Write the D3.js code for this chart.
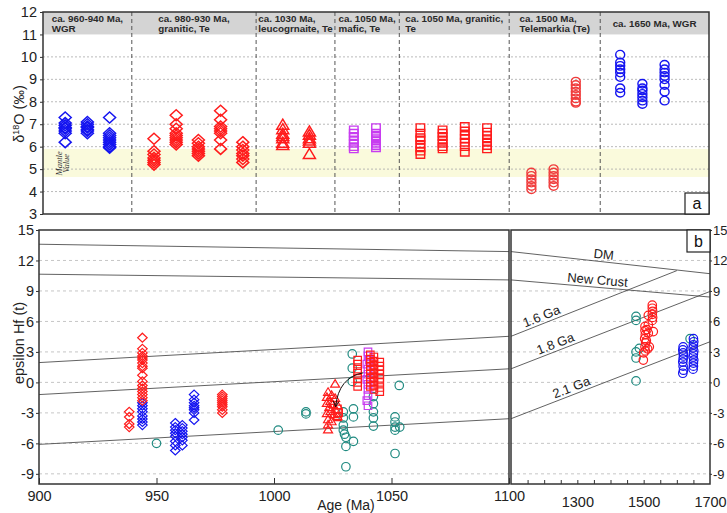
<!DOCTYPE html>
<html><head><meta charset="utf-8">
<script src="https://cdn.jsdelivr.net/npm/d3@7"></script>
<style>body{margin:0;background:#fff}svg{display:block}</style>
</head><body><svg id="c" width="727" height="513"></svg>
<script>
// ================= DATA =================
// Panel a (δ18O): group headers and group boundaries on the column axis
const groupHeaders = [
  ["ca. 960-940 Ma,", "WGR"],
  ["ca. 980-930 Ma,", "granitic, Te"],
  ["ca. 1030 Ma,", "leucogrnaite, Te"],
  ["ca. 1050 Ma,", "mafic, Te"],
  ["ca. 1050 Ma, granitic,", "Te"],
  ["ca. 1500 Ma,", "Telemarkia (Te)"],
  ["ca. 1650 Ma, WGR"]
];
const groupBounds = [0, 4, 9.6, 13.15, 16.05, 21, 25.1, 30];
const d18OTicks = [3, 4, 5, 6, 7, 8, 9, 10, 11, 12];
const mantleRange = [4.65, 5.9];

// δ18O values per sample column
const d18O_wgr960 = [
  {col: 1, v: [7.3, 7.05, 6.95, 6.85, 6.8, 6.7, 6.6, 6.2]},
  {col: 2, v: [7.1, 7.0, 6.9, 6.85, 6.75, 6.7, 6.6]},
  {col: 3, v: [7.3, 6.6, 6.5, 6.4, 6.3, 6.2, 6.1, 6.0, 5.95]}
];
const d18O_gran980 = [
  {col: 5, v: [6.35, 5.8, 5.65, 5.5, 5.4, 5.3, 5.2]},
  {col: 6, v: [7.4, 7.0, 6.8, 6.6, 6.5, 6.4, 6.3, 6.2, 6.1]},
  {col: 7, v: [6.3, 6.15, 6.0, 5.9, 5.8, 5.7, 5.6]},
  {col: 8, v: [7.6, 7.2, 6.9, 6.8, 6.7, 6.6, 6.3, 5.9]},
  {col: 9, v: [6.2, 6.0, 5.85, 5.7, 5.6, 5.45, 5.3]}
];
const d18O_leuco1030 = [
  {col: 10.8, v: [7.0, 6.8, 6.6, 6.5, 6.4, 6.2, 6.1]},
  {col: 12, v: [6.7, 6.55, 6.4, 6.3, 6.2, 5.7]}
];
const d18O_mafic1050 = [
  {col: 14, v: [6.75, 6.6, 6.45, 6.3, 6.15, 6.0, 5.9]},
  {col: 15, v: [6.85, 6.6, 6.45, 6.35, 6.25, 6.15, 6.05, 5.95]}
];
const d18O_gran1050 = [
  {col: 17, v: [6.85, 6.6, 6.4, 6.3, 6.1, 5.95, 5.8, 5.65]},
  {col: 18, v: [6.75, 6.6, 6.45, 6.3, 6.15, 6.0, 5.9]},
  {col: 19, v: [6.9, 6.7, 6.5, 6.35, 6.2, 6.0, 5.75]},
  {col: 20, v: [6.85, 6.65, 6.5, 6.35, 6.2, 6.05, 5.9]}
];
const d18O_tele1500 = [
  {col: 22, v: [4.85, 4.7, 4.55, 4.4, 4.25, 4.1]},
  {col: 23, v: [5.0, 4.85, 4.7, 4.55, 4.4, 4.25]},
  {col: 24, v: [8.9, 8.75, 8.6, 8.45, 8.3, 8.15, 8.0, 7.95]}
];
const d18O_wgr1650 = [
  {col: 26, v: [10.1, 9.75, 9.6, 9.45, 9.3, 9.1, 8.6, 8.4]},
  {col: 27, v: [8.8, 8.6, 8.5, 8.35, 8.2, 8.05, 7.9]},
  {col: 28, v: [9.65, 9.45, 9.3, 9.15, 9.0, 8.75, 8.45, 8.05]}
];

// Panel b (εHf(t) vs age)
const hfTicks = [-9, -6, -3, 0, 3, 6, 9, 12, 15];
const ageTicksLeft = [900, 950, 1000, 1050, 1100];
const ageTicksRight = [1300, 1500, 1700];

const refLines = [
  {name: "DM",        pts: [[900, 13.6], [1700, 10.7]],  labelAge: 1377},
  {name: "New Crust", pts: [[900, 10.65], [1700, 8.4]],  labelAge: 1359},
  {name: "1.6 Ga",    pts: [[900, 1.95], [1600, 11.0]],  labelAge: 1200},
  {name: "1.8 Ga",    pts: [[900, -1.2], [1700, 8.95]],  labelAge: 1242},
  {name: "2.1 Ga",    pts: [[900, -6.1], [1700, 4.0]],   labelAge: 1290}
];

const hf_wgr960 = [
  [944,-2.0],[944,-2.3],[944,-2.6],[944,-2.9],[944,-3.3],[944,-3.6],[944,-3.9],[944,-4.2],
  [958,-4.0],[958,-4.4],[958,-4.7],[958,-5.0],[958,-5.3],[958,-5.8],[958,-6.2],[958,-6.7],
  [961,-4.2],[961,-4.5],[961,-4.8],[961,-5.1],[961,-5.4],[961,-5.7],[961,-6.2],
  [966,-1.2],[966,-1.7],[966,-2.0],[966,-2.3],[966,-2.5],[966,-2.7],[966,-3.0],[966,-3.7]
];
const hf_gran980 = [
  [938.4,-2.9],[938.4,-3.4],[938.4,-4.1],[938.4,-4.4],
  [944,4.4],[944,3.3],[944,2.9],[944,2.6],[944,2.4],[944,2.2],[944,1.9],[944,1.6],[944,1.4],
  [944,0.7],[944,0.1],[944,-0.3],[944,-0.6],[944,-0.9],[944,-1.2],[944,-1.5],[944,-1.8],
  [978,-1.2],[978,-1.4],[978,-1.6],[978,-1.8],[978,-2.0],[978,-2.2],[978,-2.4],[978,-2.7],[978,-3.0]
];
const hf_leuco1030 = [
  [1026,-0.1],[1023,-0.9],[1024.5,-1.2],[1022.5,-1.4],[1026,-1.5],[1024,-1.8],[1022.5,-2.0],
  [1025,-2.1],[1027,-2.2],[1023.5,-2.4],[1026,-2.6],[1024,-2.8],[1022.5,-3.0],[1025.5,-3.1],
  [1027,-3.3],[1023,-3.6],[1024.5,-3.8],[1023,-4.1],[1023,-4.6]
];
const hf_mafic1050 = [
  [1040,3.0],[1040,2.6],[1040.5,2.2],[1039.5,1.8],[1040,1.3],[1040,0.8],[1039.5,0.3],
  [1040,-0.2],[1040,-0.7],[1040,-1.3],[1039.5,-1.8],[1040,-2.3]
];
const hf_gran1050 = [
  [1035.6,2.2],[1035.6,1.8],[1035.6,1.3],[1035.6,0.9],[1035.6,0.4],[1035.6,0.0],[1035.6,-0.4],
  [1041,2.7],[1041,2.3],[1041,2.0],[1041,1.6],[1041,1.2],[1041,0.8],[1041,0.4],[1041,0.0],[1041,-0.4],
  [1042.5,2.5],[1042.5,2.1],[1042.5,1.7],[1042.5,1.3],[1042.5,0.9],[1042.5,0.5],[1042.5,0.1],[1042.5,-0.3],[1042.5,-0.7],
  [1045,2.0],[1045,1.6],[1045,1.2],[1045,0.8],[1045,0.4],[1045,0.0],[1045,-0.5],[1045,-0.9],
  [1027,-2.6],[1027.5,-3.0],[1027,-3.4]
];
const hf_literature = [
  [950,-6.0],[1001.8,-4.7],[1013.6,-2.9],[1013.6,-3.1],
  [1033.3,2.8],[1033.3,1.4],[1033.3,0.1],
  [1029.5,-2.9],[1029.5,-3.5],[1029.5,-4.2],[1029.5,-4.7],[1030,-5.1],[1030.6,-5.4],[1030.6,-6.3],
  [1033.8,-2.6],[1033.8,-3.4],[1033.8,-5.8],[1030.6,-8.3],
  [1042.3,-1.4],[1042.3,-2.1],[1042.3,-2.9],[1042.3,-3.5],[1042.3,-4.3],
  [1053.3,-0.3],[1051.5,-3.4],[1051.5,-3.9],[1051.5,-4.4],[1051.5,-4.7],[1053.5,-4.4],[1051.5,-7.0],
  [1477,6.5],[1477,6.1],[1477,3.0],[1477,2.4],[1487,3.35],[1477,0.15],[1640,4.3]
];
const hf_tele1500 = [
  [1526,7.6],[1526,7.3],[1527,7.0],[1526,6.7],[1527,6.4],[1526,6.1],
  [1514,6.6],[1514,5.65],[1514,4.85],[1529,5.0],
  [1504,5.5],[1504,5.1],[1505,4.7],[1503,4.3],[1506,3.9],[1504,3.5],[1505,3.1],
  [1517,3.5],[1499,2.2],[1508,4.1],[1510,5.2],[1500,2.9],[1512,3.3]
];
const hf_wgr1650 = [
  [1619,3.5],[1618,3.2],[1619,2.9],[1620,2.6],[1619,2.3],[1618,2.0],[1619,1.6],[1620,1.2],[1618,0.9],
  [1650,4.3],[1651,4.0],[1650,3.7],[1649,3.4],[1651,3.1],[1650,2.8],[1649,2.5],[1651,2.2],[1650,1.9],[1650,1.6],[1649,1.3]
];
// curved arrow (from, via, to) in age / εHf
const arrowPts = [[1038, 0.95], [1027.5, 0.5], [1026.2, -2.4]];

// ================= STYLE / LAYOUT =================
const FONT = '"Liberation Sans", Arial, Helvetica, sans-serif';
const COL = {blue: "#1414f0", red: "#ff1c1c", redL: "#f03c3c", mag: "#c83cf0", teal: "#1f8a80", ink: "#222"};
const svg = d3.select("#c").style("font-family", FONT);
const fmt = d => String(d);

const xA = d3.scaleLinear().domain([0, 30]).range([43, 709]);
const yA = d3.scaleLinear().domain([3, 12]).range([214, 12]);
const xL = d3.scaleLinear().domain([900, 1100]).range([39, 509]);
const xR = d3.scaleLinear().domain([1100, 1700]).range([511, 710]);
const yB = d3.scaleLinear().domain([-10, 15]).range([484, 230]);

function shapePath(type, w, h) {
  const a = w / 2, b = h / 2;
  if (type === "diamond") return `M0,${-b}L${a},0L0,${b}L${-a},0Z`;
  if (type === "triangle") return `M0,${-b}L${a},${b}L${-a},${b}Z`;
  if (type === "square") return `M${-a},${-b}H${a}V${b}H${-a}Z`;
  return `M${-a},0A${a},${b} 0 1,0 ${a},0A${a},${b} 0 1,0 ${-a},0Z`;
}
function marks(g, pts, xs, ys, shape, w, h, color, sw) {
  g.append("g").selectAll("path").data(pts).join("path")
    .attr("transform", d => `translate(${xs(d[0])},${ys(d[1])})`)
    .attr("d", shapePath(shape, w, h))
    .attr("fill", "none").attr("stroke", color).attr("stroke-width", sw);
}
const flat = cols => cols.flatMap(c => c.v.map(v => [c.col, v]));

// ================= PANEL A =================
const gA = svg.append("g");
const [ax0, ax1] = xA.range(), [ay1, ay0] = yA.range();
gA.append("rect").attr("x", ax0).attr("width", ax1 - ax0)
  .attr("y", yA(mantleRange[1])).attr("height", yA(mantleRange[0]) - yA(mantleRange[1]))
  .attr("fill", "#fafadc");
gA.append("rect").attr("x", ax0).attr("width", ax1 - ax0)
  .attr("y", yA(12)).attr("height", yA(11) - yA(12)).attr("fill", "#d4d4d4");
gA.append("g").selectAll("line").data(d18OTicks.filter(t => t > 3 && t < 11)).join("line")
  .attr("x1", ax0).attr("x2", ax1).attr("y1", d => yA(d)).attr("y2", d => yA(d))
  .attr("stroke", "#a8a8a8").attr("stroke-width", 0.8).attr("stroke-dasharray", "2,2");
gA.append("g").selectAll("line").data(groupBounds.slice(1, -1)).join("line")
  .attr("x1", d => xA(d)).attr("x2", d => xA(d)).attr("y1", ay0).attr("y2", ay1)
  .attr("stroke", "#555").attr("stroke-width", 1).attr("stroke-dasharray", "4,3");

// Mantle value text
[["Mantle", 61.5], ["Value", 68.5]].forEach(([t, x]) => {
  gA.append("text").attr("transform", `translate(${x},${yA(5.3) + 1}) rotate(-90)`)
    .attr("text-anchor", "middle").attr("font-family", '"Liberation Serif", "DejaVu Serif", serif')
    .attr("font-style", "italic").attr("font-size", 8.5).attr("fill", "#333").text(t);
});

marks(gA, flat(d18O_wgr960), xA, yA, "diamond", 12, 11, COL.blue, 1.5);
marks(gA, flat(d18O_gran980), xA, yA, "diamond", 12, 11, COL.red, 1.5);
marks(gA, flat(d18O_leuco1030), xA, yA, "triangle", 12, 10, COL.red, 1.5);
marks(gA, flat(d18O_mafic1050), xA, yA, "square", 8.5, 7.5, COL.mag, 1.4);
marks(gA, flat(d18O_gran1050), xA, yA, "square", 8.5, 7.5, COL.red, 1.4);
marks(gA, flat(d18O_tele1500), xA, yA, "circle", 9, 8.5, COL.redL, 1.4);
marks(gA, flat(d18O_wgr1650), xA, yA, "circle", 9, 8.5, COL.blue, 1.4);

// headers
groupHeaders.forEach((lines, i) => {
  const cx = (xA(groupBounds[i]) + xA(groupBounds[i + 1])) / 2;
  const t = gA.append("text").attr("font-size", 9.8).attr("font-weight", "bold").attr("fill", "#2a2a2a");
  const ys = lines.length === 1 ? [26.5] : [21.5, 31.8];
  const spans = lines.map((l, j) => t.append("tspan").attr("y", ys[j]).text(l));
  const w = d3.max(spans, s => s.node().getComputedTextLength());
  spans.forEach(s => s.attr("x", cx - w / 2));
});

// frame + axis
gA.append("rect").attr("x", ax0).attr("y", ay0).attr("width", ax1 - ax0).attr("height", ay1 - ay0)
  .attr("fill", "none").attr("stroke", "#333").attr("stroke-width", 1.5);
const axA = gA.append("g").attr("transform", `translate(${ax0},0)`)
  .call(d3.axisLeft(yA).tickValues(d18OTicks).tickFormat(fmt).tickSize(3).tickPadding(3));
axA.select(".domain").remove();
axA.selectAll("text").attr("font-size", 14.5).attr("fill", COL.ink).style("font-family", FONT);
axA.selectAll("line").attr("stroke", "#333");
const tA = gA.append("text").attr("transform", `translate(24,${(ay0 + ay1) / 2 + 1}) rotate(-90)`)
  .attr("text-anchor", "middle").attr("font-size", 14.5).attr("fill", COL.ink);
tA.append("tspan").text("δ");
tA.append("tspan").attr("font-size", 9).attr("dy", -5).text("18");
tA.append("tspan").attr("dy", 5).text("O (‰)");
// 'a' box
gA.append("rect").attr("x", 685).attr("y", 193).attr("width", ax1 - 685).attr("height", ay1 - 193)
  .attr("fill", "#fff").attr("stroke", "#222").attr("stroke-width", 1.2);
gA.append("text").attr("x", (685 + ax1) / 2).attr("y", 209).attr("text-anchor", "middle")
  .attr("font-size", 16).attr("fill", "#111").text("a");

// ================= PANEL B =================
const gB = svg.append("g");
const [by1, by0] = yB.range();
const panels = [
  {x: xL, test: d => d[0] <= 1100, id: "clipL"},
  {x: xR, test: d => d[0] > 1100, id: "clipR"}
];
const defs = svg.append("defs");
panels.forEach(p => {
  const [px0, px1] = p.x.range();
  defs.append("clipPath").attr("id", p.id).append("rect")
    .attr("x", px0).attr("y", by0).attr("width", px1 - px0).attr("height", by1 - by0);
});
defs.append("marker").attr("id", "arr").attr("viewBox", "0 0 10 10").attr("refX", 9).attr("refY", 5)
  .attr("markerWidth", 7).attr("markerHeight", 7).attr("orient", "auto-start-reverse")
  .append("path").attr("d", "M1,1L9,5L1,9").attr("fill", "none").attr("stroke", "#111").attr("stroke-width", 1.3);

panels.forEach(p => {
  const [px0, px1] = p.x.range();
  const g = gB.append("g").attr("clip-path", `url(#${p.id})`);
  g.append("g").selectAll("line").data(hfTicks.filter(t => t < 15)).join("line")
    .attr("x1", px0).attr("x2", px1).attr("y1", d => yB(d)).attr("y2", d => yB(d))
    .attr("stroke", "#b8b8b8").attr("stroke-width", 0.8).attr("stroke-dasharray", "3,3");
  const line = d3.line().x(d => p.x(d[0])).y(d => yB(d[1]));
  g.append("g").selectAll("path").data(refLines).join("path")
    .attr("d", d => line(d.pts)).attr("fill", "none").attr("stroke", "#3a3a3a").attr("stroke-width", 0.8);

  marks(g, hf_literature.filter(p.test), p.x, yB, "circle", 8.5, 8.5, COL.teal, 1.2);
  marks(g, hf_wgr960.filter(p.test), p.x, yB, "diamond", 9.5, 9, COL.blue, 1.2);
  marks(g, hf_gran980.filter(p.test), p.x, yB, "diamond", 9.5, 9, COL.red, 1.2);
  marks(g, hf_leuco1030.filter(p.test), p.x, yB, "triangle", 9, 7.5, COL.red, 1.2);
  marks(g, hf_mafic1050.filter(p.test), p.x, yB, "square", 7.5, 7.5, COL.mag, 1.2);
  marks(g, hf_gran1050.filter(p.test), p.x, yB, "square", 7.5, 7.5, COL.red, 1.2);
  marks(g, hf_tele1500.filter(p.test), p.x, yB, "circle", 8.5, 8.5, COL.red, 1.2);
  marks(g, hf_wgr1650.filter(p.test), p.x, yB, "circle", 8.5, 8.5, COL.blue, 1.2);

  gB.append("rect").attr("x", px0).attr("y", by0).attr("width", px1 - px0).attr("height", by1 - by0)
    .attr("fill", "none").attr("stroke", "#333").attr("stroke-width", 1.5);
});

// arrow
gB.append("path")
  .attr("d", `M${xL(arrowPts[0][0])},${yB(arrowPts[0][1])}Q${xL(arrowPts[1][0])},${yB(arrowPts[1][1])} ${xL(arrowPts[2][0])},${yB(arrowPts[2][1])}`)
  .attr("fill", "none").attr("stroke", "#111").attr("stroke-width", 1).attr("marker-end", "url(#arr)");

// reference-line labels (right panel)
refLines.forEach(r => {
  const [[a0, v0], [a1, v1]] = r.pts;
  const v = v0 + (v1 - v0) * (r.labelAge - a0) / (a1 - a0);
  const ang = Math.atan2(yB(v1) - yB(v0), xR(a1) - xR(a0)) * 180 / Math.PI;
  gB.append("text").attr("transform", `translate(${xR(r.labelAge)},${yB(v)}) rotate(${ang})`)
    .attr("text-anchor", "middle").attr("dy", -3).attr("font-size", 13).attr("fill", "#222").text(r.name);
});

// axes
function styleAxis(g, fs) {
  g.select(".domain").remove();
  g.selectAll("text").attr("font-size", fs || 14.5).attr("fill", COL.ink).style("font-family", FONT);
  g.selectAll("line").attr("stroke", "#333");
}
styleAxis(gB.append("g").attr("transform", `translate(${xL.range()[0]},0)`)
  .call(d3.axisLeft(yB).tickValues(hfTicks).tickFormat(fmt).tickSize(3).tickPadding(2)));
styleAxis(gB.append("g").attr("transform", `translate(${xR.range()[1]},0)`)
  .call(d3.axisRight(yB).tickValues(hfTicks).tickFormat(fmt).tickSize(2).tickPadding(1)), 13);
styleAxis(gB.append("g").attr("transform", `translate(0,${by1})`)
  .call(d3.axisBottom(xL).tickValues(ageTicksLeft).tickFormat(fmt).tickSize(-6).tickPadding(7)));
styleAxis(gB.append("g").attr("transform", `translate(0,${by1})`)
  .call(d3.axisBottom(xR).tickValues(d3.range(1150, 1700, 50)).tickSize(-4).tickFormat("")));
styleAxis(gB.append("g").attr("transform", `translate(0,${by1})`)
  .call(d3.axisBottom(xR).tickValues(ageTicksRight).tickFormat(fmt).tickSize(0).tickPadding(13)));

gB.append("text").attr("transform", `translate(24,${(by0 + by1) / 2 - 14}) rotate(-90)`)
  .attr("text-anchor", "middle").attr("font-size", 14.5).attr("fill", COL.ink).text("epsilon Hf (t)");
gB.append("text").attr("x", 346).attr("y", 509.5).attr("text-anchor", "middle")
  .attr("font-size", 14).attr("fill", COL.ink).text("Age (Ma)");
// 'b' box
gB.append("rect").attr("x", 687).attr("y", by0).attr("width", xR.range()[1] - 687).attr("height", 22)
  .attr("fill", "#fff").attr("stroke", "#222").attr("stroke-width", 1.2);
gB.append("text").attr("x", (687 + xR.range()[1]) / 2).attr("y", by0 + 17).attr("text-anchor", "middle")
  .attr("font-size", 16).attr("fill", "#111").text("b");
</script></body></html>
